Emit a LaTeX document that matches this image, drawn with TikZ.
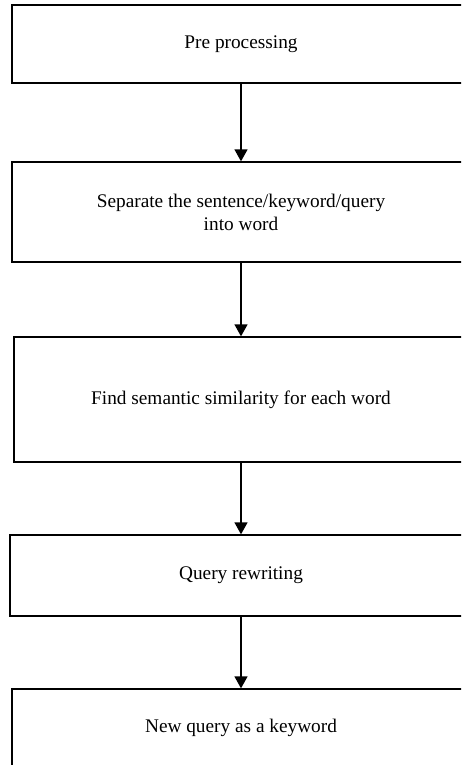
\documentclass[tikz,border=0pt]{standalone}
\usepackage{fontspec}
\setmainfont{Liberation Serif}
\usetikzlibrary{arrows.meta}
\begin{document}
\begin{tikzpicture}[x=1pt,y=-1pt,
  stepbox/.style={draw=black, line width=1.3pt, rectangle, inner sep=0pt, align=center,
    font=\fontsize{19.3}{23}\selectfont},
  flow/.style={draw=black, line width=1.3pt, -{Triangle[length=12pt,width=13pt]}}]
\useasboundingbox (0,0) rectangle (461,765);
\clip (0,0) rectangle (461,765);
\node[stepbox, minimum width=458pt, minimum height=78pt] (b1) at (241,44) {Pre processing};
\node[stepbox, minimum width=458pt, minimum height=100pt] (b2) at (241,212) {Separate the sentence/keyword/query\\into word};
\node[stepbox, minimum width=454pt, minimum height=125pt] (b3) at (241,399.5) {Find semantic similarity for each word};
\node[stepbox, minimum width=462pt, minimum height=81pt] (b4) at (241,575.5) {Query rewriting};
\node[stepbox, minimum width=458pt, minimum height=78pt] (b5) at (241,728) {New query as a keyword};
\draw[flow] (b1.south) -- (b2.north);
\draw[flow] (b2.south) -- (b3.north);
\draw[flow] (b3.south) -- (b4.north);
\draw[flow] (b4.south) -- (b5.north);
\end{tikzpicture}
\end{document}
